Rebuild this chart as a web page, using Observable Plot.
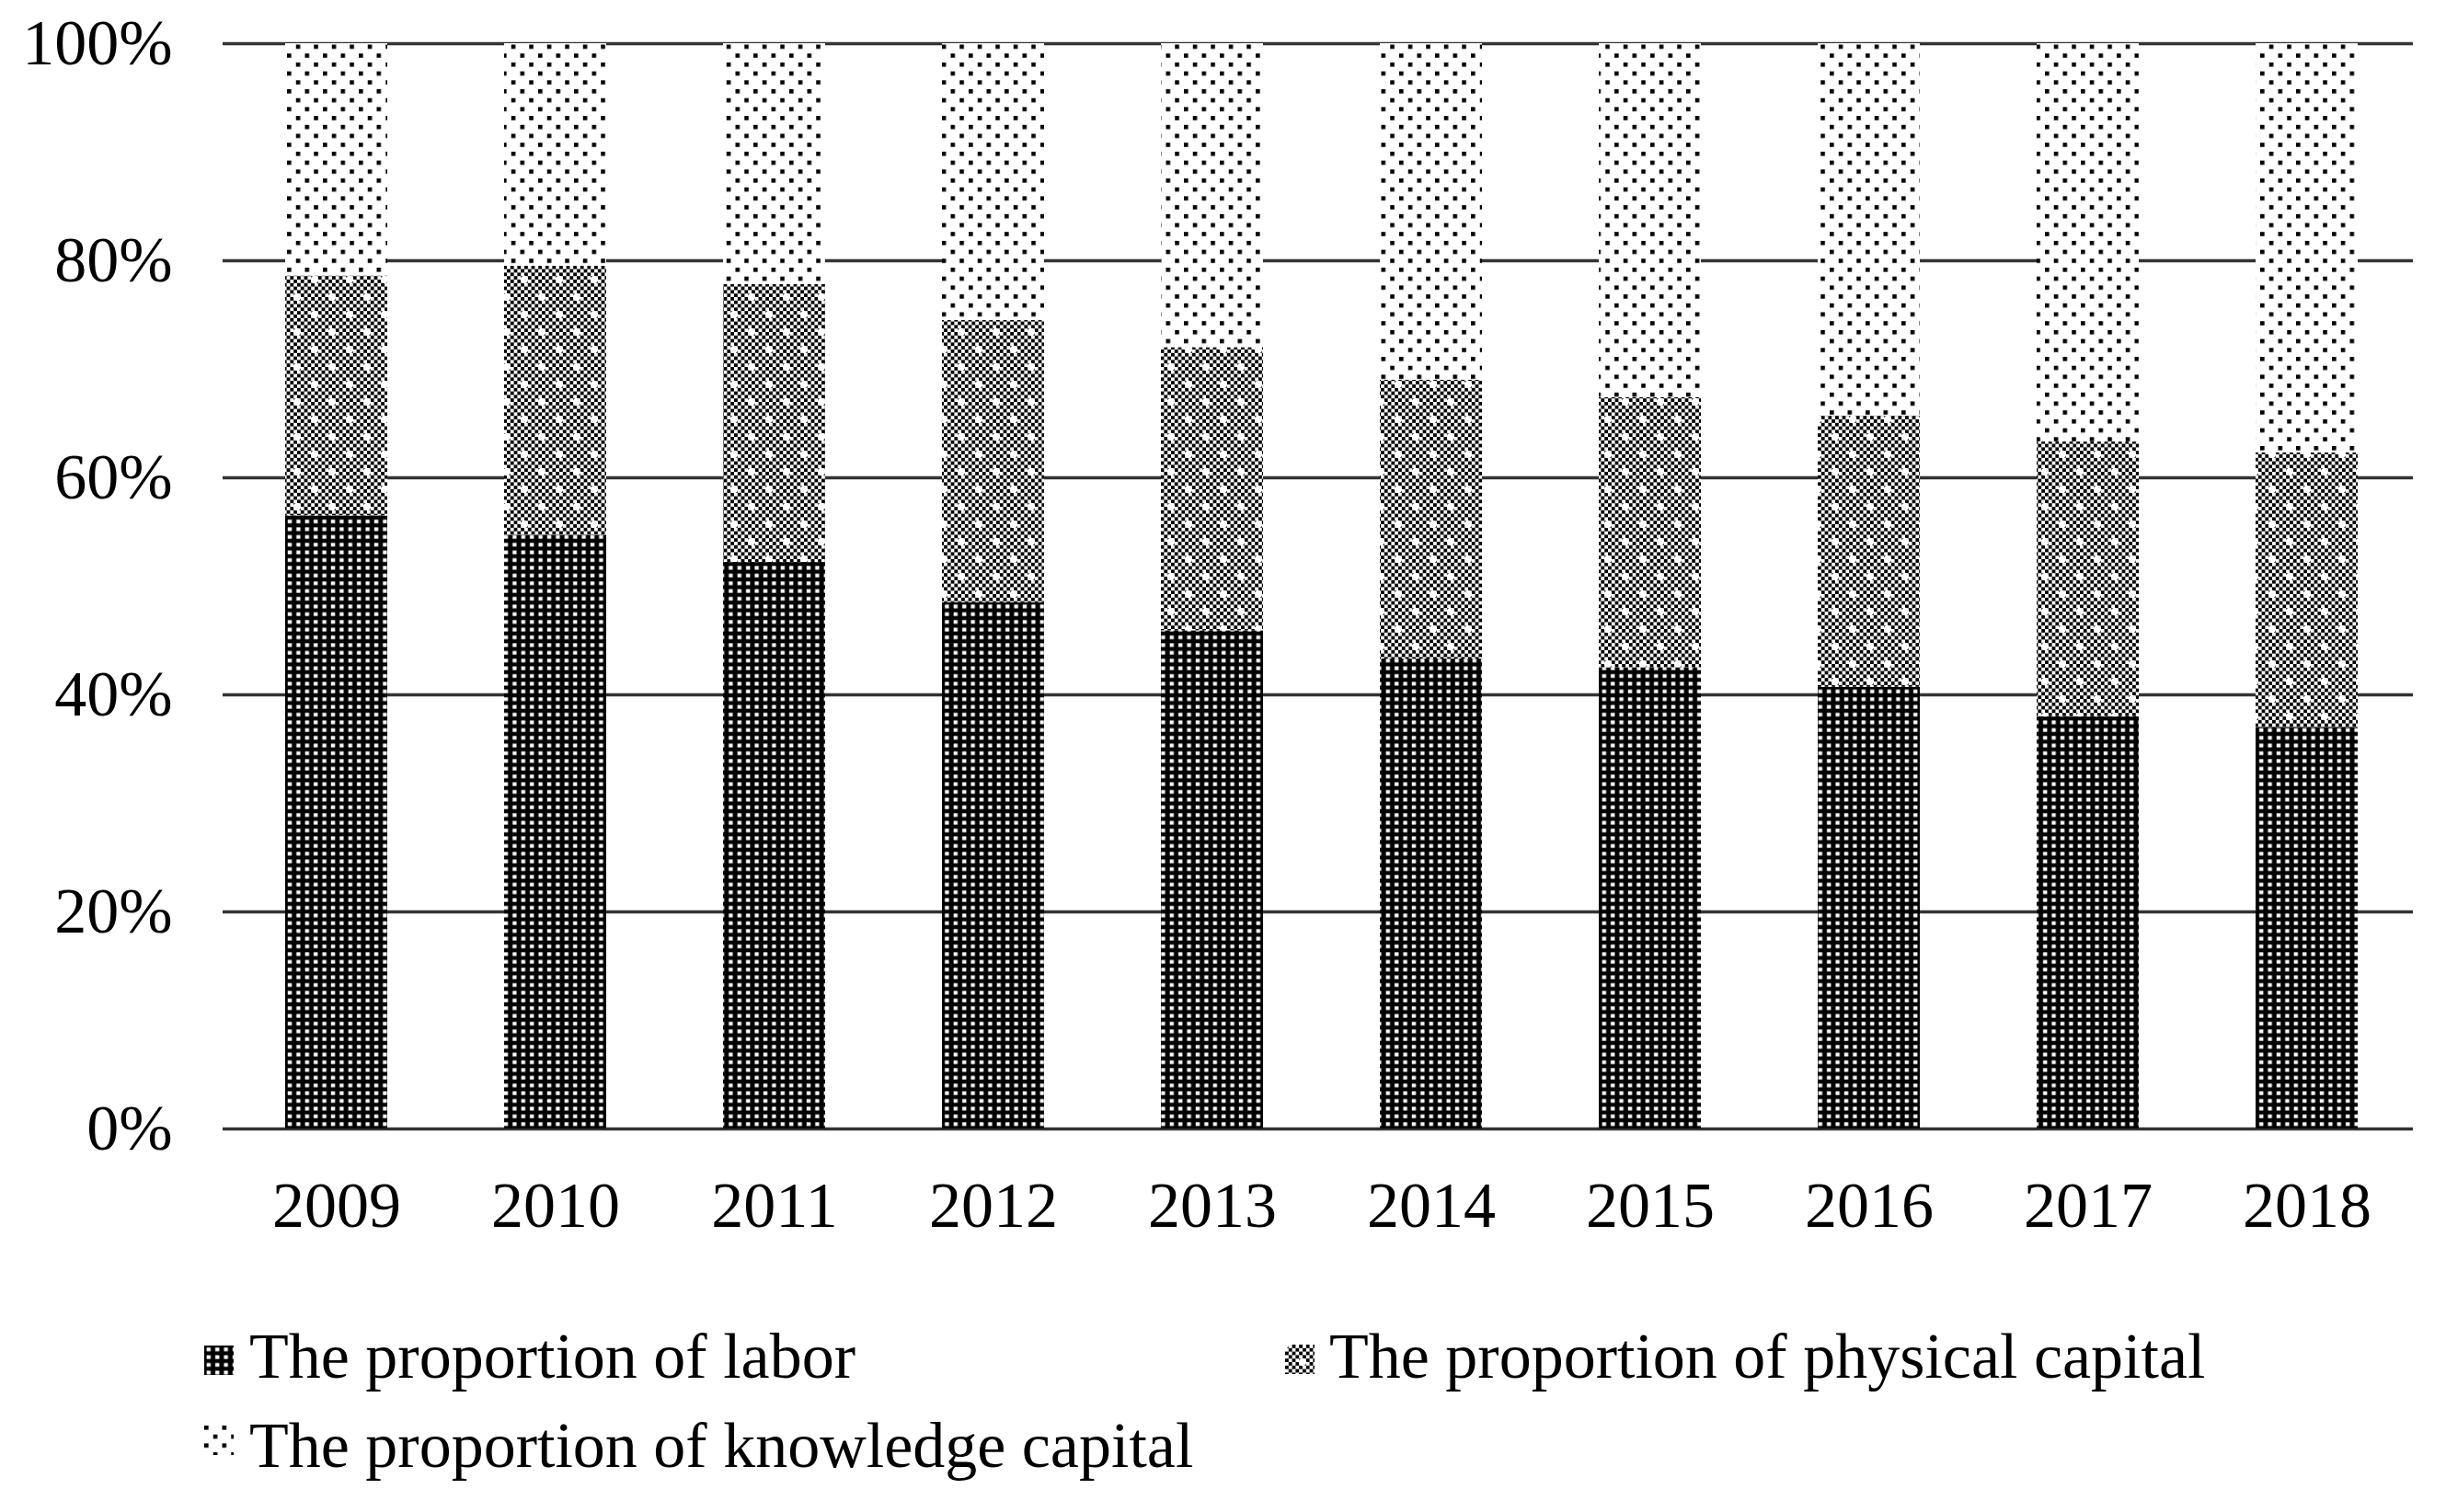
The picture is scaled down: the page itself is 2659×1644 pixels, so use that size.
<!DOCTYPE html>
<html><head><meta charset="utf-8">
<script src="https://cdn.jsdelivr.net/npm/d3@7"></script>
<script src="https://cdn.jsdelivr.net/npm/@observablehq/plot@0.6"></script>
<style>
body{margin:0;background:#fff;}
#wrap{width:2659px;position:relative;font-family:"Liberation Serif","Times New Roman",serif;background:#fff;}
.legend{position:relative;width:2659px;height:244px;}
.item{position:absolute;font-size:70px;line-height:70px;color:#000;white-space:nowrap;}
.sw{position:absolute;}
</style></head>
<body>
<svg width="0" height="0" style="position:absolute">
<defs>
<pattern id="pLabor" patternUnits="userSpaceOnUse" width="9.4" height="8.4">
 <rect width="9.4" height="8.4" fill="#000"/>
 <rect x="2.6" y="2.2" width="4.4" height="4" fill="#fff"/>
</pattern>
<pattern id="checker" patternUnits="userSpaceOnUse" width="7.6" height="7.6">
 <rect width="7.6" height="7.6" fill="#fff"/>
 <rect width="3.8" height="3.8" fill="#000"/>
 <rect x="3.8" y="3.8" width="3.8" height="3.8" fill="#000"/>
</pattern>
<pattern id="pPhysical" patternUnits="userSpaceOnUse" width="38" height="38">
 <rect width="38" height="38" fill="url(#checker)"/>
 <circle cx="0" cy="0" r="4.2" fill="#fff"/>
 <circle cx="38" cy="0" r="4.2" fill="#fff"/>
 <circle cx="0" cy="38" r="4.2" fill="#fff"/>
 <circle cx="38" cy="38" r="4.2" fill="#fff"/>
 <circle cx="19" cy="19" r="4.2" fill="#fff"/>
</pattern>
<pattern id="pKnowledge" patternUnits="userSpaceOnUse" width="19.5" height="19.4">
 <rect width="19.5" height="19.4" fill="#fff"/>
 <rect x="0" y="0" width="4.6" height="4.6" fill="#000"/>
 <rect x="9.75" y="9.7" width="4.6" height="4.6" fill="#000"/>
</pattern>
</defs>
</svg>
<div id="wrap"></div>
<script>
const years = ["2009","2010","2011","2012","2013","2014","2015","2016","2017","2018"];
const labor     = [56.5, 54.7, 52.2, 48.5, 45.9, 43.3, 42.5, 40.7, 38.0, 37.0];
const physical  = [22.1, 24.8, 25.6, 26.0, 26.1, 25.7, 24.9, 25.0, 25.3, 25.3];
const knowledge = [21.4, 20.5, 22.2, 25.5, 28.0, 31.0, 32.6, 34.3, 36.7, 37.7];
const seriesNames = ["The proportion of labor", "The proportion of physical capital", "The proportion of knowledge capital"];
const seriesFills = ["url(#pLabor)", "url(#pPhysical)", "url(#pKnowledge)"];
const yTicks = [0, 20, 40, 60, 80, 100];

const rows = [];
years.forEach((yr, i) => {
  rows.push({year: yr, series: seriesNames[0], value: labor[i]});
  rows.push({year: yr, series: seriesNames[1], value: physical[i]});
  rows.push({year: yr, series: seriesNames[2], value: knowledge[i]});
});

const chart = Plot.plot({
  width: 2659, height: 1400,
  marginTop: 47, marginBottom: 173, marginLeft: 242, marginRight: 36,
  style: {fontFamily: '"Liberation Serif","Times New Roman",serif', fontSize: "70px", color: "#000", background: "#fff"},
  x: {domain: years, range: [245.5, 2626.5], paddingInner: 0.534, paddingOuter: 0.267, label: null, tickSize: 0, tickPadding: 57},
  y: {domain: [0, 100], ticks: yTicks, tickFormat: d => d + "%", label: null, tickSize: 0, tickPadding: 55},
  color: {type: "ordinal", domain: seriesNames, range: seriesFills},
  marks: [
    Plot.ruleY(yTicks, {stroke: "#333", strokeWidth: 3.5}),
    Plot.barY(rows, {x: "year", y: "value", fill: "series", order: seriesNames})
  ]
});
const wrap = document.getElementById("wrap");
wrap.appendChild(chart);

// legend below the chart
const legend = document.createElement("div");
legend.className = "legend";
const pos = [
  {sx: 222, sy: 63, tx: 271, ty: 40},
  {sx: 1397, sy: 62, tx: 1445, ty: 40},
  {sx: 222, sy: 150, tx: 271, ty: 137}
];
seriesNames.forEach((name, i) => {
  const p = pos[i];
  const sw = document.createElementNS("http://www.w3.org/2000/svg", "svg");
  sw.setAttribute("class", "sw");
  sw.setAttribute("width", 32); sw.setAttribute("height", 32);
  sw.style.left = p.sx + "px"; sw.style.top = p.sy + "px";
  const r = document.createElementNS("http://www.w3.org/2000/svg", "rect");
  r.setAttribute("width", 32); r.setAttribute("height", 32);
  r.setAttribute("fill", seriesFills[i]);
  sw.appendChild(r);
  legend.appendChild(sw);
  const t = document.createElement("div");
  t.className = "item";
  t.style.left = p.tx + "px"; t.style.top = p.ty + "px";
  t.textContent = name;
  legend.appendChild(t);
});
wrap.appendChild(legend);
</script>
</body></html>
